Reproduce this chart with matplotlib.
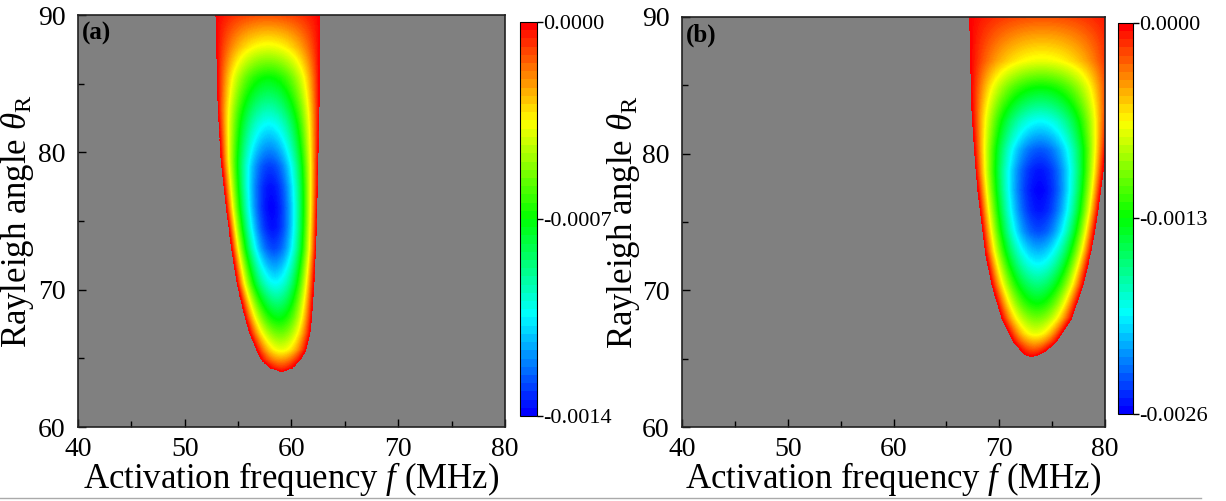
import numpy as np
import matplotlib
matplotlib.use('Agg')
import matplotlib.pyplot as plt
from matplotlib.colors import LinearSegmentedColormap, BoundaryNorm
from matplotlib.cm import ScalarMappable
from matplotlib.lines import Line2D

plt.rcParams['font.family'] = 'Liberation Serif'
plt.rcParams['mathtext.fontset'] = 'custom'
plt.rcParams['mathtext.rm'] = 'Liberation Serif'
plt.rcParams['mathtext.it'] = 'Liberation Serif:italic'
plt.rcParams['mathtext.bf'] = 'Liberation Serif:bold'

# panel (a): edges of the zero contour (MHz) at each angle
theta_edge_a = [64.0, 64.3, 64.87, 65.6, 66.8, 68.0, 70.4, 72.9, 75.8, 79.5, 83.1, 90.0]
f_left_a = [59.08, 58.0, 57.2, 56.74, 56.1, 55.64, 54.9, 54.4, 53.9, 53.4, 53.1, 52.9]
f_right_a = [59.08, 60.1, 60.8, 61.36, 61.73, 61.9, 62.1, 62.3, 62.4, 62.5, 62.6, 62.67]
# depth along the centre line, as fraction of the colour bar minimum
theta_depth_a = [64.0, 65.6, 67.8, 70.5, 73.0, 74.5, 76.0, 77.5, 79.0, 82.1, 85.5, 87.7, 90.0]
depth_a = [0.0, 0.27, 0.5, 0.75, 0.93, 0.985, 1.0, 0.985, 0.94, 0.75, 0.5, 0.27, 0.08]
zmin_a = -0.0014
cbar_ticks_a = [-0.0014, -0.0007, 0.0]

# panel (b)
theta_edge_b = [65.15, 65.25, 65.51, 66.25, 67.96, 70.42, 72.87, 75.8, 78.5, 80.7, 83.2, 86.5, 90.0]
f_left_b = [73.07, 72.5, 72.12, 71.33, 70.23, 69.29, 68.65, 68.2, 67.8, 67.6, 67.4, 67.3, 67.2]
f_right_b = [73.07, 73.65, 74.33, 75.43, 76.85, 77.95, 78.7, 79.35, 79.8, 80.1, 80.4, 80.7, 81.0]
theta_depth_b = [65.15, 66.8, 69.0, 71.9, 74.3, 75.8, 77.3, 78.8, 80.3, 82.4, 84.9, 86.8, 90.0]
depth_b = [0.0, 0.27, 0.5, 0.75, 0.925, 0.98, 1.0, 0.98, 0.915, 0.75, 0.5, 0.27, 0.08]
zmin_b = -0.0026
cbar_ticks_b = [-0.0026, -0.0013, 0.0]

rainbow = LinearSegmentedColormap.from_list(
    'rainbow_origin', ['#0000ff', '#00ffff', '#00ff00', '#ffff00', '#ff0000'])


def field(theta_edge, f_left, f_right, theta_depth, depth, zmin):
    f = np.linspace(40, 80, 900)
    th = np.linspace(60, 90, 700)
    F, T = np.meshgrid(f, th)
    lo = np.interp(th, theta_edge, f_left, left=np.nan)[:, None]
    hi = np.interp(th, theta_edge, f_right, left=np.nan)[:, None]
    d = np.interp(th, theta_depth, depth, left=np.nan)[:, None]
    mid = (lo + hi) / 2
    half = (hi - lo) / 2
    with np.errstate(invalid='ignore', divide='ignore'):
        u = (F - mid) / half
        Z = zmin * d * (1 - u ** 2)
        Z[~(np.abs(u) <= 1)] = np.nan
    return F, T, Z


fig = plt.figure(figsize=(12.26, 5.01), dpi=100)

panels = [
    ('(a)', [0.0636, 0.1477, 0.3483, 0.8223], [0.4241, 0.1697, 0.0139, 0.7864],
     theta_edge_a, f_left_a, f_right_a, theta_depth_a, depth_a, zmin_a, cbar_ticks_a, 1),
    ('(b)', [0.5563, 0.1477, 0.3450, 0.8184], [0.9119, 0.1737, 0.0122, 0.7804],
     theta_edge_b, f_left_b, f_right_b, theta_depth_b, depth_b, zmin_b, cbar_ticks_b, 0),
]

for tag, rect, crect, te, fl, fr, td, dp, zmin, cticks, ylpad in panels:
    ax = fig.add_axes(rect)
    ax.set_facecolor('#808080')
    F, T, Z = field(te, fl, fr, td, dp, zmin)
    ax.contourf(F, T, Z, levels=np.linspace(zmin, 0, 201), cmap=rainbow)
    ax.set_xlim(40, 80)
    ax.set_ylim(60, 90)
    ax.set_xticks([40, 50, 60, 70, 80])
    ax.set_yticks([60, 70, 80, 90])
    ax.set_xticks([45, 55, 65, 75], minor=True)
    ax.set_yticks([65, 75, 85], minor=True)
    ax.tick_params(which='both', direction='in', labelsize=20, top=False, right=False)
    ax.tick_params(axis='x', which='major', pad=7)
    ax.tick_params(axis='y', which='major', pad=9)
    ax.tick_params(which='major', length=6, width=1)
    ax.tick_params(which='minor', length=4, width=1)
    for s in ax.spines.values():
        s.set_linewidth(1.2)
        s.set_color('#222222')
    ax.set_xlabel(r'Activation frequency $f$ (MHz)', fontsize=25, labelpad=-1)
    ax.set_ylabel(r'Rayleigh angle $\theta_\mathrm{R}$', fontsize=25, labelpad=ylpad)
    ax.text(0.008, 0.955, tag, transform=ax.transAxes, fontsize=18,
            fontweight='bold', ha='left', va='center')

    cax = fig.add_axes(crect)
    bands = ScalarMappable(norm=BoundaryNorm(np.linspace(zmin, 0, 49), 256), cmap=rainbow)
    cb = fig.colorbar(bands, cax=cax, ticks=cticks)
    cb.ax.minorticks_off()
    cb.ax.set_yticklabels(['%.4f' % t for t in cticks])
    cb.ax.tick_params(labelsize=16, length=4, width=1, direction='out', pad=0.5)
    cb.outline.set_linewidth(0.8)

fig.add_artist(Line2D([0, 0.98], [0.006, 0.006], color='#aaaaaa', lw=1))

fig.savefig('out.png', dpi=100)
